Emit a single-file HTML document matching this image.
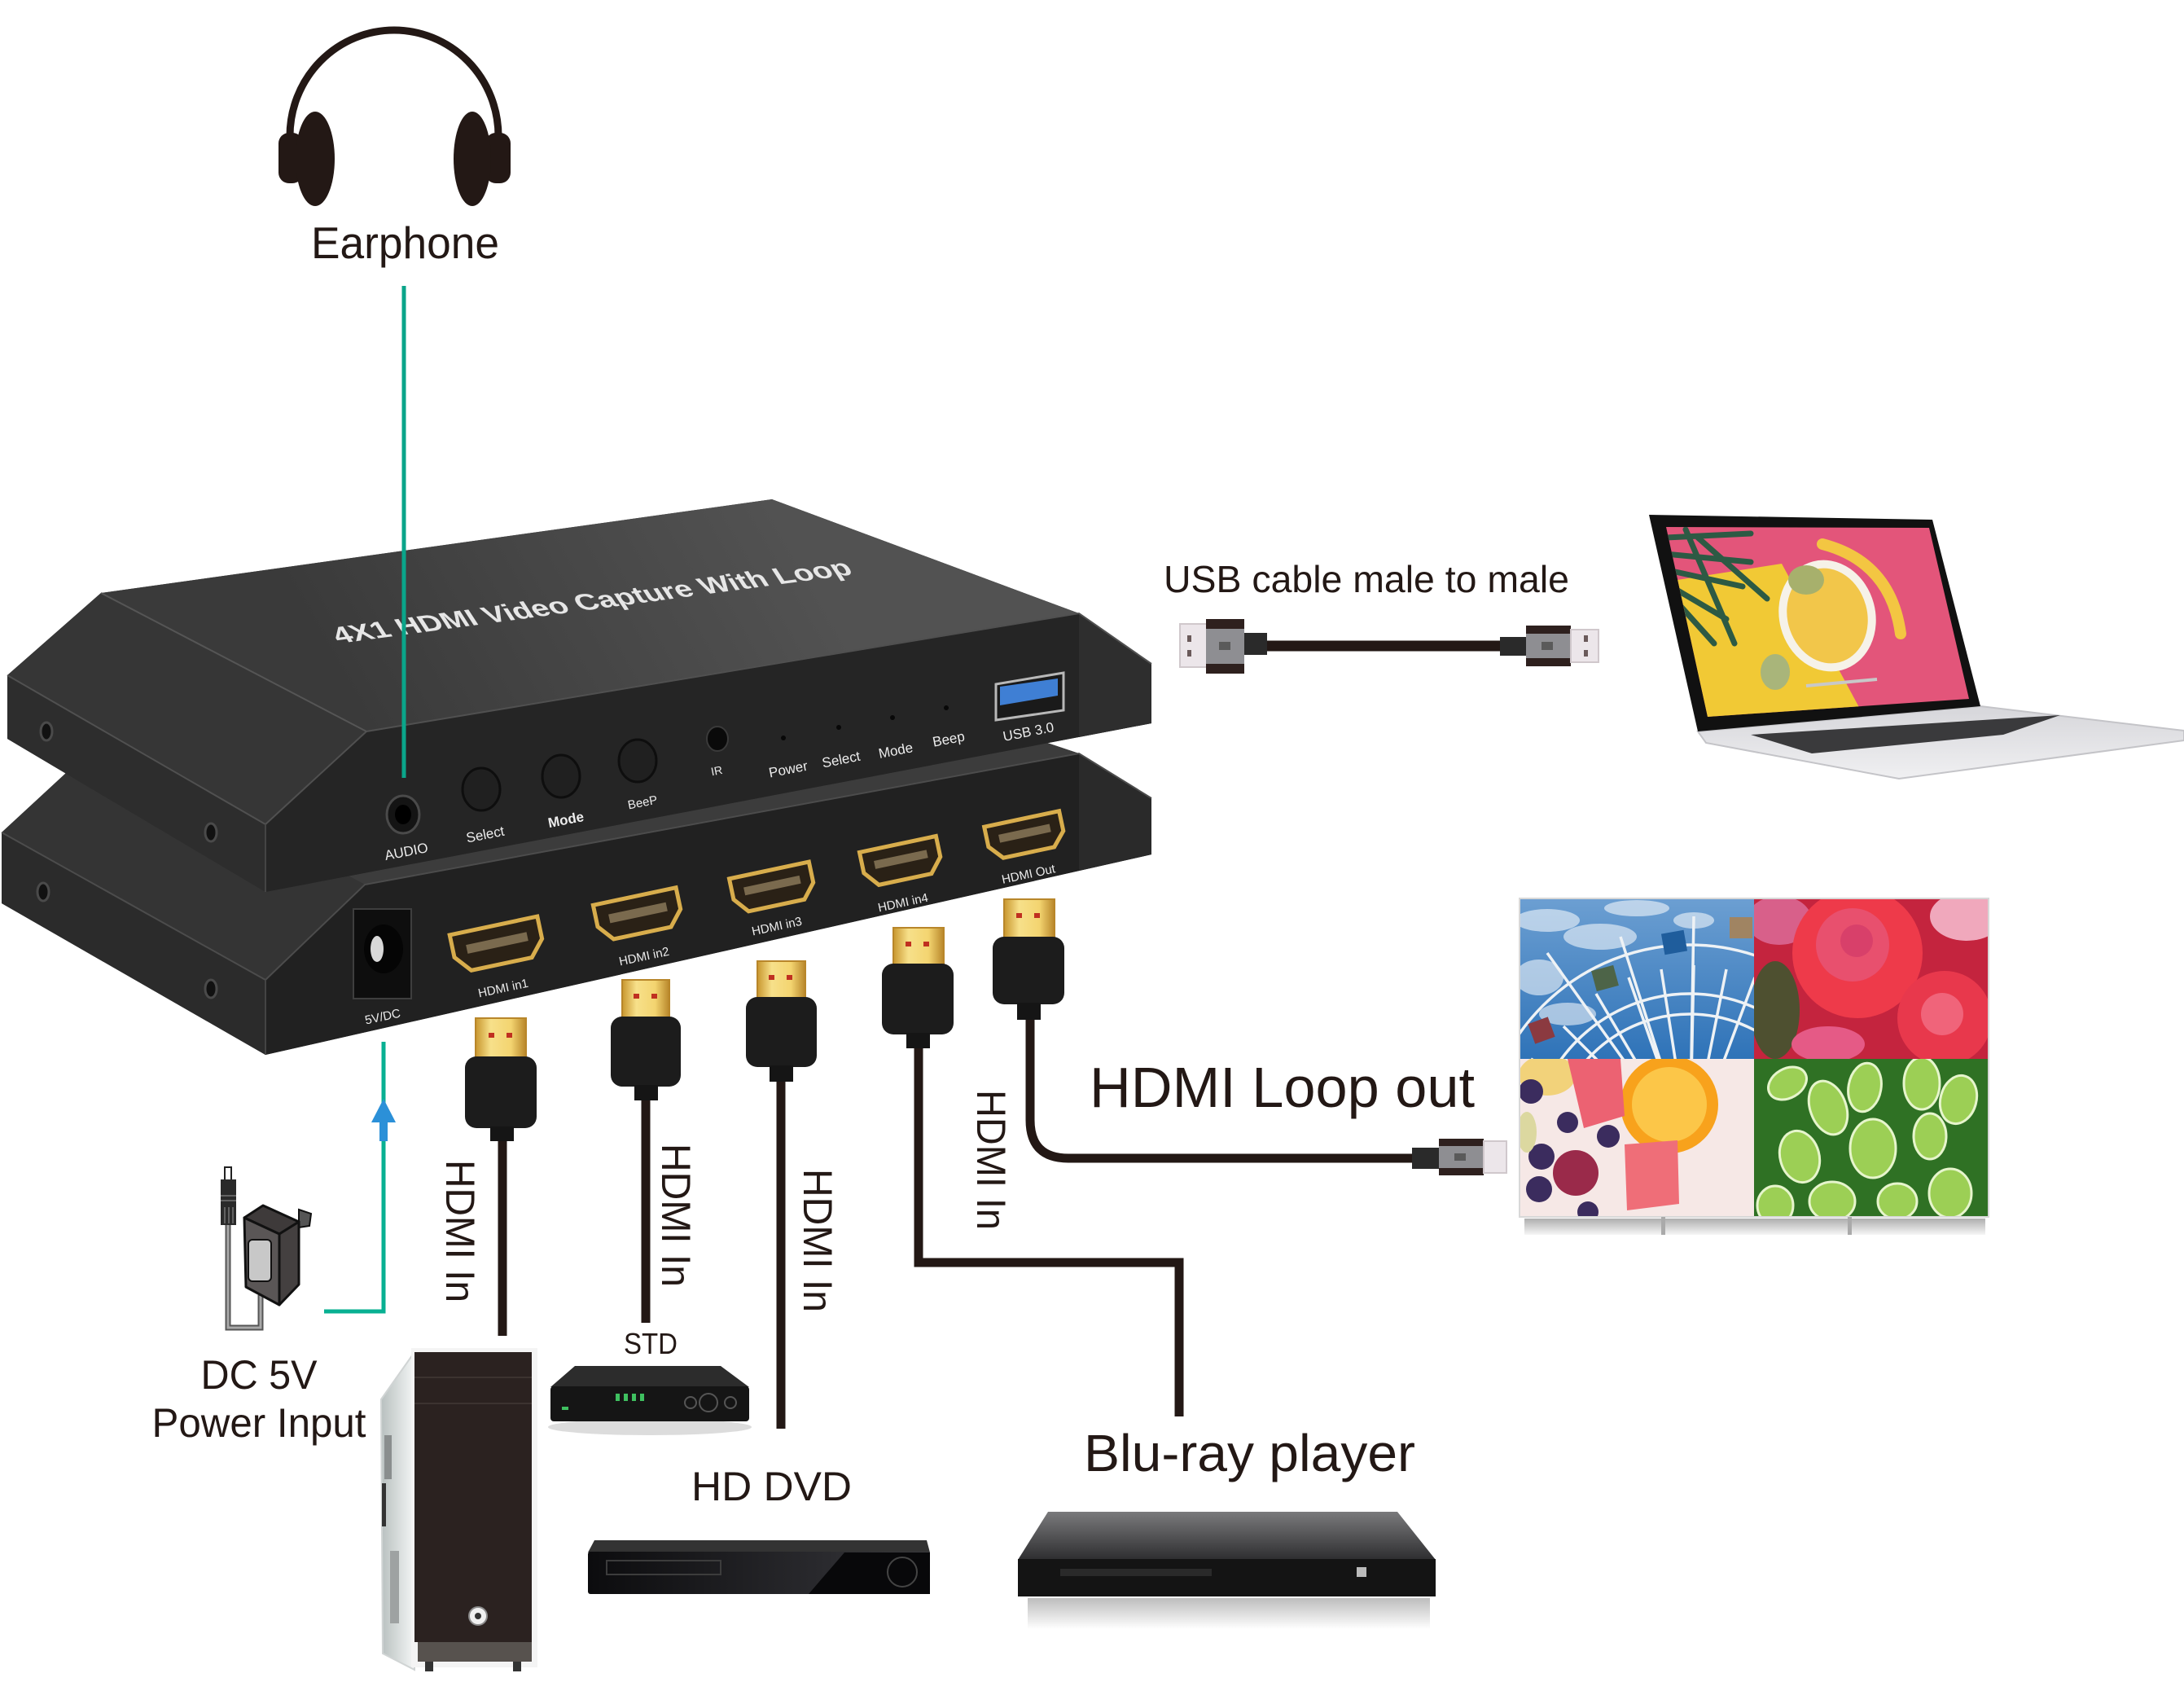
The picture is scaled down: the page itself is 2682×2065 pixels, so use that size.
<!DOCTYPE html>
<html><head><meta charset="utf-8"><style>
html,body{margin:0;padding:0;background:#fff;}
svg{display:block;}
text{font-family:"Liberation Sans",Arial,sans-serif;}
</style></head><body>
<svg width="2682" height="2065" viewBox="0 0 2682 2065" xmlns="http://www.w3.org/2000/svg">
<defs>
<linearGradient id="topg" gradientUnits="userSpaceOnUse" x1="948" y1="613" x2="450" y2="898"><stop offset="0" stop-color="#525252"/><stop offset="1" stop-color="#3a3a3a"/></linearGradient>
<linearGradient id="goldH" x1="0" y1="0" x2="1" y2="0"><stop offset="0" stop-color="#c8962e"/><stop offset="0.3" stop-color="#f7e08a"/><stop offset="0.7" stop-color="#f3d470"/><stop offset="1" stop-color="#b8862a"/></linearGradient>
<linearGradient id="sky" x1="0" y1="0" x2="0" y2="1"><stop offset="0" stop-color="#6c9fd2"/><stop offset="1" stop-color="#2f73b8"/></linearGradient>
<linearGradient id="silver" x1="0" y1="0" x2="0" y2="1"><stop offset="0" stop-color="#d6d6da"/><stop offset="1" stop-color="#f0f0f2"/></linearGradient>
<linearGradient id="pcside" x1="0" y1="0" x2="1" y2="0"><stop offset="0" stop-color="#b8c0bf"/><stop offset="1" stop-color="#f4f6f6"/></linearGradient>
<linearGradient id="bluTop" x1="0" y1="0" x2="0" y2="1"><stop offset="0" stop-color="#7a7a7c"/><stop offset="1" stop-color="#2e2e30"/></linearGradient>
<linearGradient id="refl" x1="0" y1="0" x2="0" y2="1"><stop offset="0" stop-color="#bdbdbd"/><stop offset="1" stop-color="#ffffff"/></linearGradient>
<linearGradient id="dvdg" x1="0" y1="0" x2="1" y2="0"><stop offset="0" stop-color="#0c0c0e"/><stop offset="0.7" stop-color="#2a2a2e"/><stop offset="1" stop-color="#3a3a3e"/></linearGradient>
<linearGradient id="stand" x1="0" y1="0" x2="0" y2="1"><stop offset="0" stop-color="#9a9a9a"/><stop offset="1" stop-color="#f4f4f4"/></linearGradient>
<clipPath id="cTL"><rect x="1866" y="1103" width="288" height="197"/></clipPath>
<clipPath id="cTR"><rect x="2154" y="1103" width="288" height="197"/></clipPath>
<clipPath id="cBL"><rect x="1866" y="1300" width="288" height="194"/></clipPath>
<clipPath id="cBR"><rect x="2154" y="1300" width="288" height="194"/></clipPath>
<clipPath id="cScr"><polygon points="2046,647 2369,648 2418,858 2097,880"/></clipPath>
</defs>

<!-- Headphones -->
<path d="M356,210 L356,167 A128,130 0 0 1 612,167 L612,210" fill="none" stroke="#231815" stroke-width="9"/>
<rect x="342" y="163" width="30" height="62" rx="13" fill="#231815"/>
<ellipse cx="387" cy="195" rx="24" ry="58" fill="#231815"/>
<rect x="596" y="163" width="31" height="62" rx="13" fill="#231815"/>
<ellipse cx="580" cy="195" rx="23" ry="58" fill="#231815"/>
<text x="382" y="317" font-size="55" fill="#231815" textLength="231" lengthAdjust="spacingAndGlyphs">Earphone</text>

<!-- LOWER BOX -->
<polygon points="2,1022 120,913 944,798 1325,925 1414,980 1414,1049 326,1295 2,1109" fill="#2c2c2c"/>
<polygon points="120,913 944,798 1325,925 448,1086" fill="#3c3c3c"/>
<polygon points="120,913 448,1086 326,1203 2,1022" fill="#343434"/>
<polygon points="2,1022 326,1203 326,1295 2,1109" fill="#2b2b2b"/>
<polygon points="448,1086 1325,925 1414,980 1414,1049 326,1295 326,1203" fill="#212121"/>
<polygon points="1325,925 1414,980 1414,1049 1325,1069" fill="#2a2a2a"/>
<polyline points="2,1022 326,1203 448,1086 1325,925 1414,980" fill="none" stroke="#4c4c4c" stroke-width="2"/>
<line x1="326" y1="1203" x2="326" y2="1295" stroke="#444" stroke-width="2"/>
<ellipse cx="53" cy="1095" rx="7" ry="11" fill="#111" stroke="#4a4a4a" stroke-width="3"/>
<ellipse cx="259" cy="1214" rx="7" ry="11" fill="#111" stroke="#4a4a4a" stroke-width="3"/>

<!-- UPPER BOX -->
<polygon points="9,829 124,728 948,613 1325,753 1414,815 1414,888 326,1095 9,907" fill="#2c2c2c"/>
<polygon points="124,728 948,613 1325,753 450,898" fill="url(#topg)"/>
<polygon points="124,728 450,898 326,1012 9,829" fill="#363636"/>
<polygon points="9,829 326,1012 326,1095 9,907" fill="#2d2d2d"/>
<polygon points="450,898 1325,753 1414,815 1414,888 326,1095 326,1012" fill="#252525"/>
<polygon points="1325,753 1414,815 1414,888 1325,905" fill="#2e2e2e"/>
<polyline points="9,829 326,1012 450,898 1325,753 1414,815" fill="none" stroke="#505050" stroke-width="2"/>
<line x1="124" y1="728" x2="450" y2="898" stroke="#555" stroke-width="2"/>
<line x1="326" y1="1012" x2="326" y2="1095" stroke="#444" stroke-width="2"/>
<ellipse cx="57" cy="898" rx="7" ry="11" fill="#111" stroke="#4a4a4a" stroke-width="3"/>
<ellipse cx="259" cy="1022" rx="7" ry="11" fill="#111" stroke="#4a4a4a" stroke-width="3"/>

<text transform="matrix(0.991,-0.133,0.55,0.85,416,790)" font-size="32" font-weight="bold" fill="#e6e6e6" textLength="639" lengthAdjust="spacingAndGlyphs">4X1 HDMI Video Capture With Loop</text>

<!-- upper front controls -->
<ellipse cx="495" cy="1000" rx="20" ry="23" fill="#141414" stroke="#4a4a4a" stroke-width="3"/>
<ellipse cx="495" cy="1000" rx="10" ry="12" fill="#000"/>
<ellipse cx="591" cy="969" rx="23" ry="26" fill="#202020" stroke="#0e0e0e" stroke-width="3"/>
<ellipse cx="689" cy="953" rx="23" ry="26" fill="#202020" stroke="#0e0e0e" stroke-width="3"/>
<ellipse cx="783" cy="934" rx="23" ry="26" fill="#202020" stroke="#0e0e0e" stroke-width="3"/>
<ellipse cx="881" cy="907" rx="13" ry="15" fill="#0a0a0a" stroke="#3a3a3a" stroke-width="2"/>
<circle cx="962" cy="906" r="3" fill="#080808"/>
<circle cx="1030" cy="893" r="3" fill="#080808"/>
<circle cx="1096" cy="881" r="3" fill="#080808"/>
<circle cx="1162" cy="869" r="3" fill="#080808"/>
<polygon points="1223,840 1306,826 1306,872 1223,884" fill="#1a1a1a" stroke="#b8b8b8" stroke-width="3"/>
<polygon points="1228,843 1299,833 1299,854 1228,866" fill="#3f7fd4"/>
<g fill="#ececec" text-anchor="middle" font-size="17">
<text transform="translate(500,1051) rotate(-11)">AUDIO</text>
<text transform="translate(597,1030) rotate(-11)">Select</text>
<text transform="translate(696,1012) rotate(-11)" font-weight="bold">Mode</text>
<text transform="translate(790,990) rotate(-11)" font-size="15">BeeP</text>
<text transform="translate(881,951) rotate(-11)" font-size="14">IR</text>
<text transform="translate(969,950) rotate(-11)">Power</text>
<text transform="translate(1034,938) rotate(-11)">Select</text>
<text transform="translate(1101,927) rotate(-11)">Mode</text>
<text transform="translate(1166,913) rotate(-11)">Beep</text>
<text transform="translate(1264,904) rotate(-11)">USB 3.0</text>
</g>

<!-- lower front -->
<rect x="434" y="1116" width="71" height="110" fill="#0e0e0e" stroke="#3e3e3e" stroke-width="2"/>
<ellipse cx="471" cy="1165" rx="24" ry="30" fill="#050505"/>
<ellipse cx="463" cy="1165" rx="8" ry="16" fill="#d8d8d8"/>
<g stroke="#d8ad4c" stroke-width="5" fill="#2a2116">
<g transform="translate(611,1160) rotate(-12)"><polygon points="-55,-24 55,-24 55,4 38,24 -38,24 -55,4"/><rect x="-38" y="-8" width="76" height="11" fill="#7a6a4e" stroke="none"/></g>
<g transform="translate(784,1123) rotate(-12)"><polygon points="-52,-23 52,-23 52,4 36,23 -36,23 -52,4"/><rect x="-36" y="-8" width="72" height="11" fill="#7a6a4e" stroke="none"/></g>
<g transform="translate(949,1090) rotate(-12)"><polygon points="-50,-22 50,-22 50,4 35,22 -35,22 -50,4"/><rect x="-35" y="-8" width="70" height="10" fill="#7a6a4e" stroke="none"/></g>
<g transform="translate(1107,1058) rotate(-12)"><polygon points="-48,-22 48,-22 48,4 33,22 -33,22 -48,4"/><rect x="-33" y="-8" width="66" height="10" fill="#7a6a4e" stroke="none"/></g>
<g transform="translate(1259,1026) rotate(-12)"><polygon points="-47,-21 47,-21 47,4 32,21 -32,21 -47,4"/><rect x="-32" y="-8" width="64" height="10" fill="#7a6a4e" stroke="none"/></g>
</g>
<g fill="#ececec" text-anchor="middle" font-size="15">
<text transform="translate(471,1253) rotate(-12)">5V/DC</text>
<text transform="translate(619,1218) rotate(-12)">HDMI in1</text>
<text transform="translate(792,1179) rotate(-12)">HDMI in2</text>
<text transform="translate(955,1142) rotate(-12)">HDMI in3</text>
<text transform="translate(1110,1113) rotate(-12)">HDMI in4</text>
<text transform="translate(1264,1078) rotate(-12)">HDMI Out</text>
</g>

<!-- earphone teal line -->
<line x1="496" y1="351" x2="496" y2="955" stroke="#0aa58a" stroke-width="5"/>

<!-- cables -->
<g stroke="#231815" stroke-width="11" fill="none">
<line x1="617" y1="1395" x2="617" y2="1640"/>
<line x1="793" y1="1345" x2="793" y2="1624"/>
<line x1="959" y1="1322" x2="959" y2="1754"/>
<polyline points="1128,1280 1128,1550 1448,1550 1448,1739"/>
<path d="M1265,1245 L1265,1375 Q1265,1422 1312,1422 L1740,1422"/>
</g>

<!-- HDMI plugs -->
<g>
<rect x="584" y="1250" width="62" height="52" fill="url(#goldH)" stroke="#b8862a" stroke-width="2"/>
<rect x="600" y="1268" width="7" height="6" fill="#c03020"/><rect x="622" y="1268" width="7" height="6" fill="#c03020"/>
<rect x="571" y="1297" width="88" height="88" rx="14" fill="#1c1c1c"/>
<rect x="602" y="1383" width="29" height="18" fill="#151515"/>

<rect x="764" y="1203" width="58" height="50" fill="url(#goldH)" stroke="#b8862a" stroke-width="2"/>
<rect x="778" y="1220" width="7" height="6" fill="#c03020"/><rect x="800" y="1220" width="7" height="6" fill="#c03020"/>
<rect x="750" y="1248" width="86" height="86" rx="14" fill="#1c1c1c"/>
<rect x="779" y="1332" width="29" height="19" fill="#151515"/>

<rect x="930" y="1180" width="59" height="48" fill="url(#goldH)" stroke="#b8862a" stroke-width="2"/>
<rect x="944" y="1197" width="7" height="6" fill="#c03020"/><rect x="966" y="1197" width="7" height="6" fill="#c03020"/>
<rect x="916" y="1224" width="87" height="86" rx="14" fill="#1c1c1c"/>
<rect x="945" y="1308" width="29" height="20" fill="#151515"/>

<rect x="1097" y="1139" width="62" height="48" fill="url(#goldH)" stroke="#b8862a" stroke-width="2"/>
<rect x="1112" y="1156" width="7" height="6" fill="#c03020"/><rect x="1134" y="1156" width="7" height="6" fill="#c03020"/>
<rect x="1083" y="1183" width="88" height="87" rx="14" fill="#1c1c1c"/>
<rect x="1113" y="1268" width="29" height="19" fill="#151515"/>

<rect x="1233" y="1104" width="62" height="49" fill="url(#goldH)" stroke="#b8862a" stroke-width="2"/>
<rect x="1248" y="1121" width="7" height="6" fill="#c03020"/><rect x="1270" y="1121" width="7" height="6" fill="#c03020"/>
<rect x="1219" y="1150" width="88" height="83" rx="14" fill="#1c1c1c"/>
<rect x="1249" y="1231" width="29" height="21" fill="#151515"/>
</g>

<!-- HDMI In labels -->
<g font-size="50" fill="#231815">
<text transform="translate(548,1424) rotate(90)" textLength="175" lengthAdjust="spacingAndGlyphs">HDMI In</text>
<text transform="translate(813,1404) rotate(90)" textLength="176" lengthAdjust="spacingAndGlyphs">HDMI In</text>
<text transform="translate(987,1435) rotate(90)" textLength="176" lengthAdjust="spacingAndGlyphs">HDMI In</text>
<text transform="translate(1200,1338) rotate(90)" textLength="172" lengthAdjust="spacingAndGlyphs">HDMI In</text>
</g>

<!-- USB cable (top) -->
<line x1="1550" y1="793" x2="1845" y2="793" stroke="#231815" stroke-width="13"/>
<rect x="1449" y="766" width="33" height="53" fill="#ece6ea" stroke="#d0c8cc" stroke-width="2"/>
<rect x="1458" y="780" width="5" height="8" fill="#6a5a5a"/><rect x="1458" y="798" width="5" height="8" fill="#6a5a5a"/>
<rect x="1481" y="760" width="47" height="67" fill="#8e8e92"/>
<rect x="1481" y="760" width="47" height="12" fill="#2e201e"/><rect x="1481" y="815" width="47" height="12" fill="#2e201e"/>
<rect x="1497" y="788" width="14" height="10" fill="#5a5a5a"/>
<rect x="1528" y="777" width="28" height="27" fill="#2a2a2a"/>
<rect x="1842" y="782" width="32" height="23" fill="#2a2a2a"/>
<rect x="1874" y="768" width="55" height="50" fill="#8e8e92"/>
<rect x="1874" y="768" width="55" height="10" fill="#2e201e"/><rect x="1874" y="808" width="55" height="10" fill="#2e201e"/>
<rect x="1893" y="788" width="14" height="10" fill="#5a5a5a"/>
<rect x="1929" y="773" width="34" height="40" fill="#ece6ea" stroke="#d0c8cc" stroke-width="2"/>
<rect x="1945" y="780" width="5" height="8" fill="#6a5a5a"/><rect x="1945" y="798" width="5" height="8" fill="#6a5a5a"/>
<text x="1429" y="727" font-size="46" fill="#231815" textLength="498" lengthAdjust="spacingAndGlyphs">USB cable male to male</text>

<!-- loop out plug -->
<rect x="1734" y="1409" width="33" height="26" fill="#2a2a2a"/>
<rect x="1767" y="1398" width="55" height="45" fill="#8e8e92"/>
<rect x="1767" y="1398" width="55" height="9" fill="#2e201e"/><rect x="1767" y="1434" width="55" height="9" fill="#2e201e"/>
<rect x="1786" y="1416" width="14" height="9" fill="#5a5a5a"/>
<rect x="1822" y="1401" width="28" height="39" fill="#ece6ea" stroke="#d0c8cc" stroke-width="2"/>
<text x="1338" y="1359" font-size="70" fill="#231815" textLength="473" lengthAdjust="spacingAndGlyphs">HDMI Loop out</text>

<!-- Laptop -->
<polygon points="2085,898 2432,867 2682,897 2682,909 2332,956 2095,912" fill="url(#silver)" stroke="#c4c4c8" stroke-width="2"/>
<polygon points="2150,902 2530,878 2460,902 2225,925" fill="#3a3a3c"/>
<polygon points="2025,632 2373,638 2432,867 2085,898" fill="#111"/>
<g clip-path="url(#cScr)">
<rect x="2040" y="640" width="390" height="250" fill="#e3557a"/>
<polygon points="2040,715 2188,692 2292,885 2060,895" fill="#f1c935"/>
<g stroke="#2d5a44" stroke-width="7" stroke-linecap="round" fill="none">
<path d="M2045,660 L2150,655"/><path d="M2045,680 L2150,690"/><path d="M2048,700 L2140,720"/><path d="M2052,720 L2120,760"/><path d="M2060,740 L2105,790"/><path d="M2070,650 L2130,790"/><path d="M2085,660 L2170,735"/>
</g>
<ellipse cx="2244" cy="756" rx="54" ry="64" transform="rotate(-15 2244 756)" fill="#f2c64a" stroke="#f6f2e8" stroke-width="10"/>
<ellipse cx="2218" cy="712" rx="22" ry="18" fill="#a7b06c"/>
<path d="M2238,668 Q2322,690 2334,778" fill="none" stroke="#f3c642" stroke-width="14" stroke-linecap="round"/>
<ellipse cx="2180" cy="825" rx="18" ry="22" fill="#a9b57a"/>
<line x1="2218" y1="842" x2="2305" y2="834" stroke="#c8c8c8" stroke-width="4"/>
</g>

<!-- TV -->
<g clip-path="url(#cTL)">
<rect x="1866" y="1103" width="288" height="197" fill="url(#sky)"/>
<g fill="#ffffff" opacity="0.55">
<ellipse cx="1900" cy="1130" rx="40" ry="14"/><ellipse cx="1965" cy="1150" rx="45" ry="16"/><ellipse cx="1890" cy="1200" rx="30" ry="22"/><ellipse cx="2010" cy="1115" rx="40" ry="10"/><ellipse cx="1925" cy="1245" rx="35" ry="14"/><ellipse cx="2080" cy="1130" rx="25" ry="10"/>
</g>
<g fill="none" stroke="#eef2f5" stroke-width="3.5">
<circle cx="2075" cy="1415" r="195"/><circle cx="2075" cy="1415" r="170"/><circle cx="2075" cy="1415" r="255"/>
<path d="M2075,1415 L1880,1300 M2075,1415 L1920,1260 M2075,1415 L1960,1220 M2075,1415 L2000,1200 M2075,1415 L2040,1190 M2075,1415 L2080,1185 M2075,1415 L2120,1190 M2075,1415 L2155,1200 M2075,1415 L1900,1170 M2075,1415 L1990,1150 M2075,1415 L2080,1125"/>
</g>
<rect x="1880" y="1252" width="26" height="26" fill="#8b3a40" transform="rotate(-20 1893 1265)"/>
<rect x="1957" y="1188" width="28" height="26" fill="#4d6448" transform="rotate(-15 1971 1201)"/>
<rect x="2042" y="1144" width="28" height="26" fill="#1f5d9c" transform="rotate(-10 2056 1157)"/>
<rect x="2124" y="1126" width="28" height="26" fill="#a08462"/>
</g>
<g clip-path="url(#cTR)">
<rect x="2154" y="1103" width="288" height="197" fill="#c4243e"/>
<ellipse cx="2180" cy="1240" rx="30" ry="60" fill="#4e5030"/>
<ellipse cx="2185" cy="1130" rx="40" ry="30" fill="#d8608a"/>
<ellipse cx="2415" cy="1125" rx="45" ry="30" fill="#f0a8bc"/>
<circle cx="2281" cy="1170" r="80" fill="#ee3a4a"/>
<circle cx="2275" cy="1160" r="45" fill="#e8506e"/>
<circle cx="2280" cy="1155" r="20" fill="#d8406a"/>
<circle cx="2388" cy="1250" r="58" fill="#e8384c"/>
<circle cx="2385" cy="1245" r="26" fill="#f0647a"/>
<ellipse cx="2245" cy="1282" rx="45" ry="22" fill="#e55a86"/>
</g>
<g clip-path="url(#cBL)">
<rect x="1866" y="1300" width="288" height="194" fill="#f6e8e6"/>
<ellipse cx="1900" cy="1320" rx="35" ry="25" fill="#f2d27a"/>
<circle cx="2050" cy="1356" r="60" fill="#f8a21c"/>
<circle cx="2050" cy="1356" r="46" fill="#fcc648"/>
<polygon points="1925,1300 1990,1300 1995,1370 1945,1385" fill="#ec6272"/>
<polygon points="1995,1405 2060,1400 2062,1478 1998,1486" fill="#ef6e78"/>
<g fill="#3b2c5e">
<circle cx="1880" cy="1340" r="15"/><circle cx="1893" cy="1420" r="16"/><circle cx="1890" cy="1460" r="16"/><circle cx="1925" cy="1378" r="13"/><circle cx="1975" cy="1395" r="14"/><circle cx="1950" cy="1488" r="13"/>
</g>
<circle cx="1935" cy="1440" r="28" fill="#9a2a4a"/>
<ellipse cx="1875" cy="1390" rx="12" ry="25" fill="#dcd8a0"/>
</g>
<g clip-path="url(#cBR)">
<rect x="2154" y="1300" width="288" height="194" fill="#2f7124"/>
<g fill="#9ccf55" stroke="#e6f5cc" stroke-width="3">
<ellipse cx="2195" cy="1330" rx="25" ry="18" transform="rotate(-30 2195 1330)"/>
<ellipse cx="2245" cy="1360" rx="22" ry="34" transform="rotate(-20 2245 1360)"/>
<ellipse cx="2290" cy="1335" rx="20" ry="30" transform="rotate(10 2290 1335)"/>
<ellipse cx="2360" cy="1330" rx="22" ry="32"/>
<ellipse cx="2405" cy="1350" rx="22" ry="30" transform="rotate(15 2405 1350)"/>
<ellipse cx="2300" cy="1410" rx="28" ry="36"/>
<ellipse cx="2210" cy="1420" rx="24" ry="32" transform="rotate(-15 2210 1420)"/>
<ellipse cx="2370" cy="1395" rx="20" ry="28"/>
<ellipse cx="2395" cy="1465" rx="26" ry="30"/>
<ellipse cx="2250" cy="1475" rx="28" ry="24"/>
<ellipse cx="2330" cy="1475" rx="24" ry="22"/>
<ellipse cx="2180" cy="1480" rx="22" ry="24"/>
</g>
</g>
<rect x="1866" y="1103" width="576" height="391" fill="none" stroke="#d8d8d8" stroke-width="2"/>
<rect x="1872" y="1496" width="566" height="20" fill="url(#stand)" opacity="0.8"/>
<rect x="2040" y="1494" width="5" height="22" fill="#aaa"/><rect x="2269" y="1494" width="5" height="22" fill="#aaa"/>

<!-- Power adapter -->
<polyline points="280,1503 280,1630 320,1630 320,1590" fill="none" stroke="#555" stroke-width="7"/>
<polyline points="280,1503 280,1630 320,1630 320,1590" fill="none" stroke="#a8a8a8" stroke-width="3"/>
<rect x="276" y="1433" width="8" height="16" fill="#fff" stroke="#222" stroke-width="2"/>
<rect x="271" y="1448" width="19" height="56" fill="#2a2a2a"/>
<g stroke="#9a9a9a" stroke-width="1"><line x1="271" y1="1468" x2="290" y2="1468"/><line x1="271" y1="1474" x2="290" y2="1474"/><line x1="276" y1="1482" x2="276" y2="1502"/><line x1="281" y1="1482" x2="281" y2="1502"/><line x1="286" y1="1482" x2="286" y2="1502"/></g>
<polygon points="367,1485 382,1490 380,1505 367,1507" fill="#555" stroke="#111" stroke-width="2"/>
<polygon points="300,1495 323,1480 367,1500 343,1515" fill="#3e3a3a" stroke="#111" stroke-width="3" stroke-linejoin="round"/>
<polygon points="300,1495 343,1515 343,1602 302,1580" fill="#5a5656" stroke="#111" stroke-width="3" stroke-linejoin="round"/>
<polygon points="343,1515 367,1500 367,1577 343,1602" fill="#444040" stroke="#111" stroke-width="3" stroke-linejoin="round"/>
<rect x="305" y="1522" width="28" height="51" rx="5" fill="#c8c8c8" stroke="#111" stroke-width="2"/>

<!-- Power teal line + arrow -->
<polyline points="471,1279 471,1610 398,1610" fill="none" stroke="#08b092" stroke-width="5"/>
<polygon points="471,1349 456,1378 486,1378" fill="#2b90d8"/>
<rect x="466" y="1377" width="10" height="24" fill="#2b90d8"/>

<text x="318" y="1705" font-size="50" fill="#231815" text-anchor="middle" textLength="143" lengthAdjust="spacingAndGlyphs">DC 5V</text>
<text x="318" y="1764" font-size="50" fill="#231815" text-anchor="middle" textLength="263" lengthAdjust="spacingAndGlyphs">Power Input</text>

<!-- PC tower -->
<polygon points="468,1718 509,1660 509,2050 470,2030" fill="url(#pcside)" stroke="#d0d4d4" stroke-width="2"/>
<rect x="472" y="1762" width="9" height="54" fill="#8a8e8e"/>
<rect x="479" y="1904" width="11" height="89" fill="#9ea2a2"/>
<rect x="469" y="1821" width="5" height="53" fill="#333"/>
<rect x="505" y="1655" width="155" height="392" fill="#f4f4f4"/>
<rect x="509" y="1660" width="144" height="356" fill="#2b2220"/>
<rect x="513" y="2016" width="140" height="24" fill="#57524e"/>
<line x1="509" y1="1691" x2="653" y2="1691" stroke="#3c3330" stroke-width="2"/>
<line x1="509" y1="1723" x2="653" y2="1723" stroke="#3c3330" stroke-width="2"/>
<circle cx="587" cy="1984" r="11" fill="#f0f0f0" stroke="#8a8a8a" stroke-width="2"/>
<circle cx="587" cy="1984" r="4" fill="#333"/>
<rect x="522" y="2040" width="10" height="12" fill="#333"/><rect x="630" y="2040" width="10" height="12" fill="#333"/>

<!-- STD box -->
<ellipse cx="798" cy="1752" rx="125" ry="10" fill="#dcdcdc"/>
<polygon points="706,1677 885,1677 920,1703 676,1703" fill="#2c2c2c"/>
<rect x="676" y="1702" width="244" height="43" rx="4" fill="#151515"/>
<g fill="#3fc060"><rect x="756" y="1711" width="5" height="9"/><rect x="766" y="1711" width="5" height="9"/><rect x="776" y="1711" width="5" height="9"/><rect x="786" y="1711" width="5" height="9"/></g>
<circle cx="848" cy="1722" r="7" fill="none" stroke="#555" stroke-width="2"/>
<circle cx="870" cy="1722" r="11" fill="none" stroke="#555" stroke-width="2"/>
<circle cx="897" cy="1722" r="7" fill="none" stroke="#555" stroke-width="2"/>
<rect x="690" y="1727" width="8" height="4" fill="#3fc060"/>
<text x="766" y="1662" font-size="36" fill="#231815" textLength="66" lengthAdjust="spacingAndGlyphs">STD</text>

<!-- HD DVD -->
<text x="849" y="1842" font-size="50" fill="#231815" textLength="197" lengthAdjust="spacingAndGlyphs">HD DVD</text>
<polygon points="730,1891 1138,1891 1142,1906 722,1906" fill="#333"/>
<rect x="722" y="1905" width="420" height="52" rx="3" fill="url(#dvdg)"/>
<polygon points="1037,1906 1142,1906 1142,1957 993,1957" fill="#08080a"/>
<rect x="745" y="1916" width="140" height="17" fill="none" stroke="#3c3c3c" stroke-width="2"/>
<circle cx="1108" cy="1930" r="18" fill="none" stroke="#444" stroke-width="2"/>

<!-- Blu-ray -->
<text x="1331" y="1806" font-size="64" fill="#231815" textLength="407" lengthAdjust="spacingAndGlyphs">Blu-ray player</text>
<rect x="1262" y="1962" width="494" height="38" fill="url(#refl)"/>
<polygon points="1287,1856 1716,1856 1763,1915 1250,1915" fill="url(#bluTop)"/>
<rect x="1250" y="1914" width="513" height="46" fill="#141414"/>
<rect x="1302" y="1926" width="186" height="9" fill="#2a2a2a"/>
<rect x="1666" y="1924" width="12" height="12" fill="#bbb"/>
</svg>
</body></html>
